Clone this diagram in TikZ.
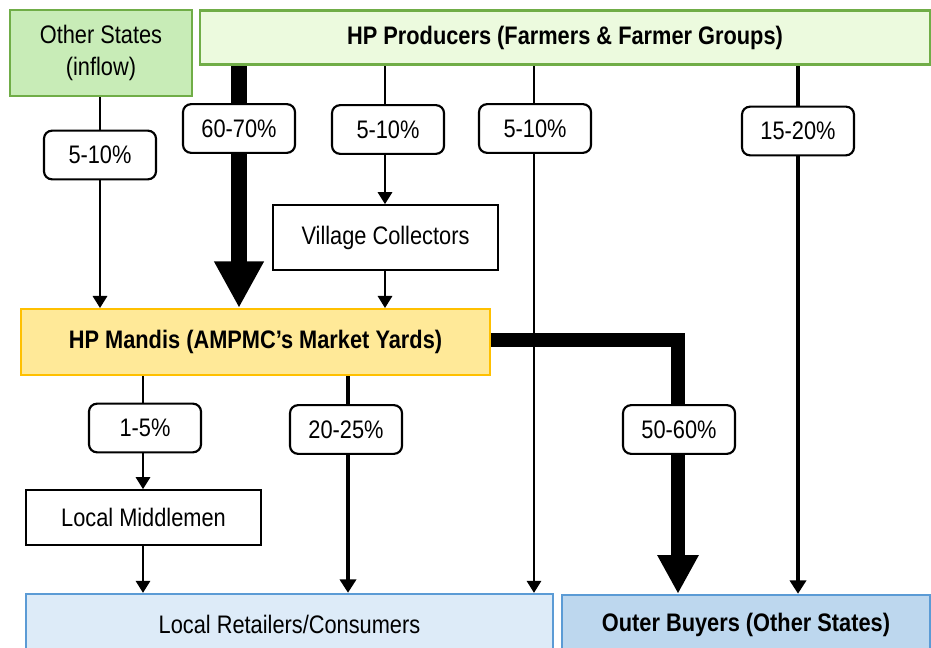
\documentclass[tikz,border=0pt]{standalone}
\usepackage{fontspec}
\setmainfont{Liberation Sans}[FakeStretch=0.86]
\usepackage{xcolor}
\definecolor{leafgreen}{RGB}{112,173,71}
\definecolor{inflowfill}{RGB}{200,236,183}
\definecolor{producerfill}{RGB}{236,250,222}
\definecolor{mandiline}{RGB}{255,192,0}
\definecolor{mandifill}{RGB}{255,233,152}
\definecolor{buyerline}{RGB}{91,155,213}
\definecolor{retailfill}{RGB}{221,235,248}
\definecolor{outerfill}{RGB}{189,215,238}
\usetikzlibrary{arrows.meta, backgrounds}

\begin{document}
\begin{tikzpicture}[
  x=0.75pt, y=-0.75pt,
  font=\fontsize{19}{21}\selectfont,
  box/.style={draw, line width=1.6pt, align=center, inner sep=0pt, fill=white},
  greenbox/.style={box, draw=leafgreen, line width=2.2pt},
  bluebox/.style={box, draw=buyerline, line width=1.8pt},
  share/.style={draw, line width=1.6pt, rounded corners=6pt, fill=white,
                minimum width=84pt, minimum height=36.5pt, inner sep=0pt},
  thinflow/.style={-{Triangle[length=9pt,width=11pt]}, line width=0.9pt},
  midflow/.style={-{Triangle[length=10pt,width=12pt]}, line width=3.2pt},
  bigflow/.style={-{Triangle[length=#1,width=#1]}, line width=0.35*#1}
]
  \useasboundingbox (0,0) rectangle (931,648);

  % boxes
  \node[greenbox, fill=inflowfill, minimum width=136.5pt, minimum height=64.5pt, font=\fontsize{19}{24}\selectfont] (others) at (101,53) {Other States\\(inflow)};
  \node[greenbox, fill=producerfill, minimum width=547.5pt, minimum height=41pt, font=\fontsize{19}{21}\selectfont\bfseries] (prod) at (565,37.5) {HP Producers (Farmers \& Farmer Groups)};
  \node[box, minimum width=169pt, minimum height=48.5pt] (village) at (385.5,237.5) {Village Collectors};
  \node[box, draw=mandiline, fill=mandifill, line width=1.6pt, minimum width=351.5pt, minimum height=49.5pt, font=\fontsize{19}{21}\selectfont\bfseries] (mandis) at (255.5,342) {HP Mandis (AMPMC’s Market Yards)};
  \node[box, minimum width=176pt, minimum height=41pt] (middle) at (143.5,517.5) {Local Middlemen};
  \node[bluebox, fill=retailfill, minimum width=395pt, minimum height=45pt] (retail) at (289.5,624) {Local Retailers/Consumers};
  \node[bluebox, fill=outerfill, minimum width=276pt, minimum height=45pt, font=\fontsize{19}{21}\selectfont\bfseries] (outer) at (746,625) {Outer Buyers (Other States)};

  % shares
  \node[share] (sInflow) at (100,155) {5-10\%};
  \node[share] (sMandi) at (239,128.5) {60-70\%};
  \node[share] (sVillage) at (388,129.5) {5-10\%};
  \node[share] (sDirect) at (535,128.5) {5-10\%};
  \node[share] (sOuter) at (798,131) {15-20\%};
  \node[share] (sMiddle) at (145,428) {1-5\%};
  \node[share] (sRetail) at (346,429.5) {20-25\%};
  \node[share] (sExport) at (679,429.5) {50-60\%};

  % flows
  \begin{scope}[on background layer]
    \draw[thinflow] (others.south -| 100,0) -- (mandis.north -| 100,0);
    \draw[bigflow=35pt] (prod.south -| 239,0) -- (mandis.north -| 239,0);
    \draw[thinflow] (prod.south -| 385,0) -- (village.north -| 385,0);
    \draw[thinflow] (village.south -| 385,0) -- (mandis.north -| 385,0);
    \draw[thinflow] (prod.south -| 534,0) -- (retail.north -| 534,0);
    \draw[midflow] (prod.south -| 798,0) -- (outer.north -| 798,0);
    \draw[thinflow] (mandis.south -| 143,0) -- (middle.north -| 143,0);
    \draw[thinflow] (middle.south -| 143,0) -- (retail.north -| 143,0);
    \draw[midflow] (mandis.south -| 348,0) -- (retail.north -| 348,0);
    \draw[bigflow=29pt] (mandis.east |- 0,340) -| (outer.north -| 678,0);
  \end{scope}
\end{tikzpicture}
\end{document}
